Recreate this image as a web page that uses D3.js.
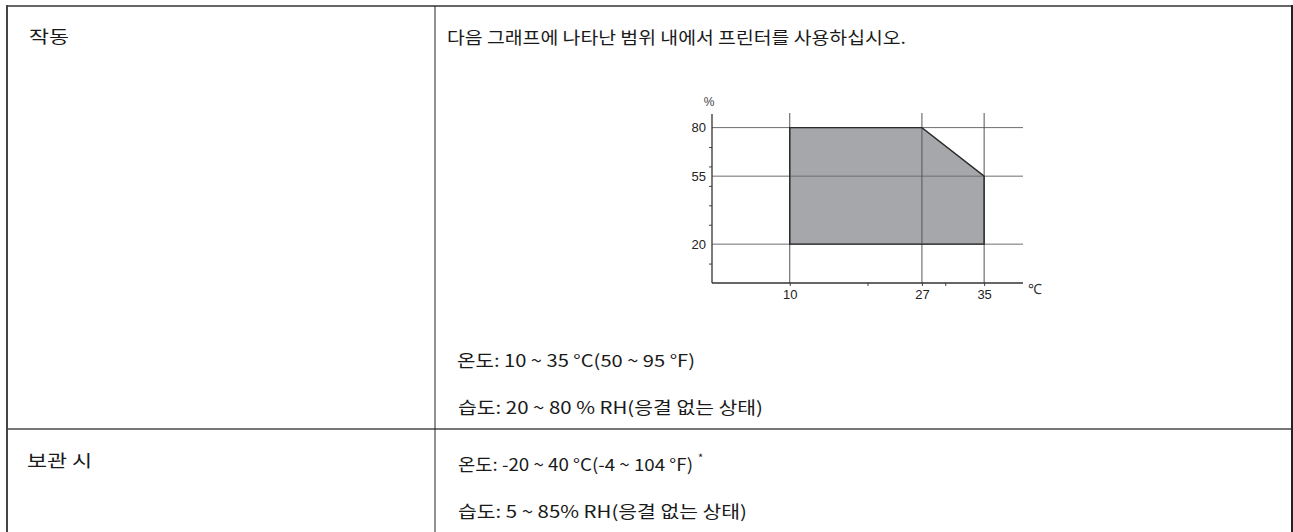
<!DOCTYPE html>
<html>
<head>
<meta charset="utf-8">
<script src="https://cdn.jsdelivr.net/npm/d3@7"></script>
<style>
  body { margin: 0; background: #fff; }
  .txt { font-family: "Noto Sans CJK KR", "Noto Sans", sans-serif; font-size: 17px; fill: #1a1a1a; }
  .axis text { font-family: "Liberation Sans", Arial, sans-serif; font-size: 13px; fill: #222; }
</style>
</head>
<body>
<svg id="chart"></svg>
<script>
// operating range polygon (temperature °C, humidity %)
const tempPts = [10, 10, 27, 35, 35]
const humPts = [20, 80, 80, 55, 20]

// gridlines and tick labels
const xGrid = [10, 27, 35]
const yGrid = [20, 55, 80]
const xMinor = [20, 30]
const yMinor = [10, 30, 40, 50, 60, 70]

// table text
const rowLabels = ["작동", "보관 시"]
const introText = "다음 그래프에 나타난 범위 내에서 프린터를 사용하십시오."
const opLines = ["온도: 10 ~ 35 °C(50 ~ 95 °F)", "습도: 20 ~ 80 % RH(응결 없는 상태)"]
const storeLines = ["온도: -20 ~ 40 °C(-4 ~ 104 °F)", "습도: 5 ~ 85% RH(응결 없는 상태)"]

const W = 1293, H = 532

const svg = d3.select("#chart").attr("width", W).attr("height", H)

// ---- table frame ----
const tbl = { left: 7, right: 1292, top: 6, mid: 435, row: 429 }

svg.append("line").attr("x1", tbl.left).attr("x2", tbl.right).attr("y1", tbl.top).attr("y2", tbl.top)
  .attr("stroke", "#666").attr("stroke-width", 2)
svg.append("line").attr("x1", tbl.left).attr("x2", tbl.right).attr("y1", tbl.row).attr("y2", tbl.row)
  .attr("stroke", "#777").attr("stroke-width", 2)
svg.append("line").attr("x1", tbl.left).attr("x2", tbl.left).attr("y1", tbl.top - 1).attr("y2", H)
  .attr("stroke", "#444").attr("stroke-width", 2)
svg.append("line").attr("x1", tbl.right).attr("x2", tbl.right).attr("y1", tbl.top - 1).attr("y2", H)
  .attr("stroke", "#222").attr("stroke-width", 2)
svg.append("line").attr("x1", tbl.mid).attr("x2", tbl.mid).attr("y1", tbl.top).attr("y2", H)
  .attr("stroke", "#222").attr("stroke-width", 1)

// ---- text ----
// the source font is wider than Noto, so each line is stretched to its measured width
function label(xp, yp, str, len) {
  return svg.append("text").attr("class", "txt").attr("x", xp).attr("y", yp)
    .attr("textLength", len).attr("lengthAdjust", "spacingAndGlyphs").text(str)
}
label(29, 43, rowLabels[0], 40)
label(27, 467, rowLabels[1], 65)
label(447, 44, introText, 459)

label(457, 367, opLines[0], 238)
label(458, 414, opLines[1], 305)
label(458, 471, storeLines[0], 235)
label(458, 518, storeLines[1], 289)
svg.append("text").attr("class", "txt").attr("x", 698).attr("y", 462)
  .style("font-size", "11px").text("*")

// ---- chart ----
const x = d3.scaleLinear().domain([0, 40]).range([712, 1023])
const y = d3.scaleLinear().domain([0, 87]).range([283, 114])

const g = svg.append("g")

// shaded region
const pts = tempPts.map((t, i) => [x(t), y(humPts[i])])
g.append("path")
  .attr("d", d3.line()(pts) + "Z")
  .attr("fill", "#a6a7aa")

// gridlines
g.selectAll(".hgrid").data(yGrid).enter().append("line")
  .attr("x1", x(0)).attr("x2", x(40))
  .attr("y1", d => y(d)).attr("y2", d => y(d))
  .attr("stroke", "#6e6e6e").attr("stroke-width", 1)
g.selectAll(".vgrid").data(xGrid).enter().append("line")
  .attr("x1", d => x(d)).attr("x2", d => x(d))
  .attr("y1", y(87) - 1).attr("y2", y(0))
  .attr("stroke", "#555").attr("stroke-width", 1)

// region outline
g.append("path")
  .attr("d", d3.line()(pts) + "Z")
  .attr("fill", "none").attr("stroke", "#2a2a2a").attr("stroke-width", 1.4)

// axes
g.append("g").attr("class", "axis")
  .attr("transform", `translate(${x(0)},0)`)
  .call(d3.axisLeft(y).tickValues(yGrid).tickSize(0).tickPadding(6))
g.append("g").attr("class", "axis")
  .attr("transform", `translate(${x(0)},0)`)
  .call(d3.axisLeft(y).tickValues(yMinor).tickSize(3).tickFormat(""))

g.append("g").attr("class", "axis")
  .attr("transform", `translate(0,${y(0)})`)
  .call(d3.axisBottom(x).tickValues(xGrid).tickSize(3).tickPadding(4))
g.append("g").attr("class", "axis")
  .attr("transform", `translate(0,${y(0)})`)
  .call(d3.axisBottom(x).tickValues(xMinor).tickSize(3).tickFormat(""))

g.selectAll(".axis .domain").remove()
g.selectAll(".axis .tick line").attr("stroke", "#444")

// axis lines
g.append("line").attr("x1", x(0)).attr("x2", x(0)).attr("y1", y(87)).attr("y2", y(0))
  .attr("stroke", "#333").attr("stroke-width", 1.3)
g.append("line").attr("x1", x(0)).attr("x2", x(40)).attr("y1", y(0)).attr("y2", y(0))
  .attr("stroke", "#333").attr("stroke-width", 1.3)

// units
g.append("text").attr("x", x(0) - 3).attr("y", y(87) - 8)
  .attr("text-anchor", "middle")
  .style("font-family", "Liberation Sans, Arial, sans-serif").style("font-size", "12px").style("fill", "#444")
  .text("%")
g.append("text").attr("x", x(40) + 5).attr("y", y(0) + 11)
  .style("font-family", "Liberation Sans, Arial, sans-serif").style("font-size", "14px").style("fill", "#333")
  .text("℃")
</script>
</body>
</html>
